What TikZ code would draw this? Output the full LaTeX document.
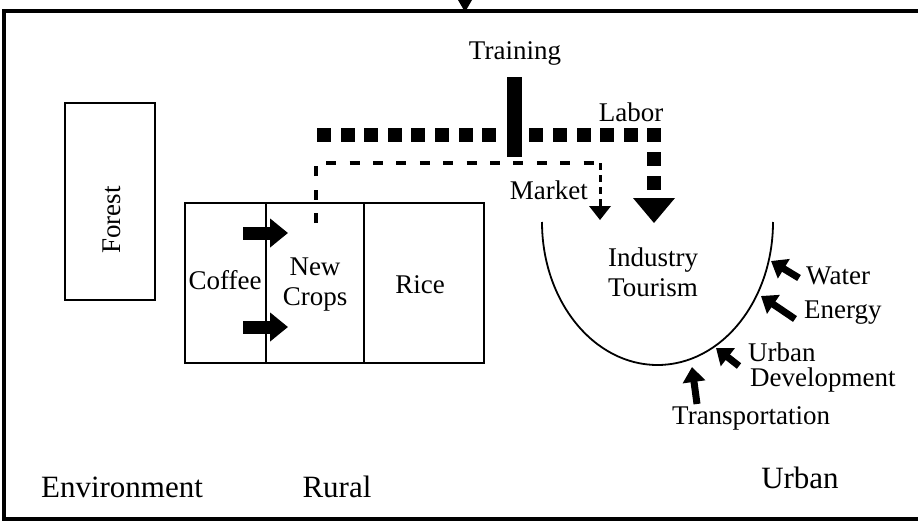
\documentclass[tikz,border=0pt]{standalone}
\usepackage{fontspec}
\setmainfont{Liberation Serif}
\usetikzlibrary{arrows.meta}
\begin{document}
\begin{tikzpicture}[x=1pt,y=-1pt,
  lbl/.style={inner sep=0pt, font=\fontsize{27}{30}\selectfont},
  zone/.style={inner sep=0pt, font=\fontsize{31}{34}\selectfont},
  cell/.style={draw, line width=1.8pt},
  push/.style={line width=13pt, -{Triangle[width=28pt,length=18pt]}},
  feed/.style={line width=7pt, -{Triangle[width=22pt,length=15pt]}},
  laborsq/.style={fill=black, minimum size=14pt, inner sep=0pt},
  mkt/.style={line width=4pt, dash pattern=on 10pt off 13.4pt}]
\useasboundingbox (0,0) rectangle (918,527);

% frame with the entry mark on top
\draw[line width=4pt] (918,11) -- (4,11) -- (4,519) -- (918,519);
\fill (458,0) -- (472,0) -- (465,12) -- cycle;

% environment
\node[cell, minimum width=90pt, minimum height=197pt] (forest) at (110,201.5) {};
\node[lbl, rotate=90] at (112,220) {Forest};

% rural land uses
\draw[cell] (185,203) rectangle (484,363);
\draw[cell] (266,203) -- (266,363);
\draw[cell] (364,203) -- (364,363);
\node[lbl] (coffee) at (225,280) {Coffee};
\node[lbl, align=center] (newcrops) at (315,285) {New\\Crops};
\node[lbl] (rice) at (420,285) {Rice};
\coordinate (p1a) at (243,233); \coordinate (p1b) at (288,233);
\coordinate (p2a) at (243,327); \coordinate (p2b) at (288,327);
\draw[push] (p1a) -- (p1b);
\draw[push] (p2a) -- (p2b);

% urban basin
\draw[line width=1.8pt] (542,222) arc[start angle=180, end angle=0, x radius=115.5, y radius=143];
\node[lbl, align=center] (ind) at (653,272) {Industry\\Tourism};

% training input
\node[lbl] (training) at (515,53) {Training};
\fill (507,77) rectangle (522,157);

% market link from new crops
\coordinate (m0) at (316,223);
\coordinate (m1) at (316,163);
\coordinate (m2) at (600,163);
\coordinate (m3) at (600,207);
\draw[mkt] (m0) -- (m1) -- (m2);
\draw[line width=3pt, dash pattern=on 7pt off 5pt] (m2) -- (m3);
\fill (589,206) -- (611,206) -- (600,220) -- cycle;
\node[lbl, anchor=east] (market) at (588,190) {Market};

% labor flow
\node[lbl] (labor) at (631,112) {Labor};
\foreach \k in {0,...,7,9,10,11,12,13,14}
  \node[laborsq] at (324+23.6*\k,135) {};
\node[laborsq] at (654,159) {};
\node[laborsq] at (654,183) {};
\fill (633,198) -- (675,198) -- (654,223) -- cycle;

% urban inputs
\coordinate (w0) at (799,278); \coordinate (w1) at (771,261);
\coordinate (e0) at (795,319); \coordinate (e1) at (761,296);
\coordinate (u0) at (739,366); \coordinate (u1) at (716,348);
\coordinate (t0) at (697,404); \coordinate (t1) at (692,367);
\draw[feed] (w0) -- (w1);
\draw[feed] (e0) -- (e1);
\draw[feed] (u0) -- (u1);
\draw[feed] (t0) -- (t1);
\node[lbl, anchor=west] (water) at (806,276) {Water};
\node[lbl, anchor=west] (energy) at (804,313) {Energy};
\node[lbl, anchor=west] (urbdev) at (748,352) {Urban};
\node[lbl, anchor=west] (devel) at (750,380) {Development};
\node[lbl, anchor=west] (transp) at (672,418) {Transportation};

% zone labels
\node[zone] (env) at (122,487) {Environment};
\node[zone] (rural) at (337,487) {Rural};
\node[zone] (urban) at (800,478) {Urban};
\end{tikzpicture}
\end{document}
